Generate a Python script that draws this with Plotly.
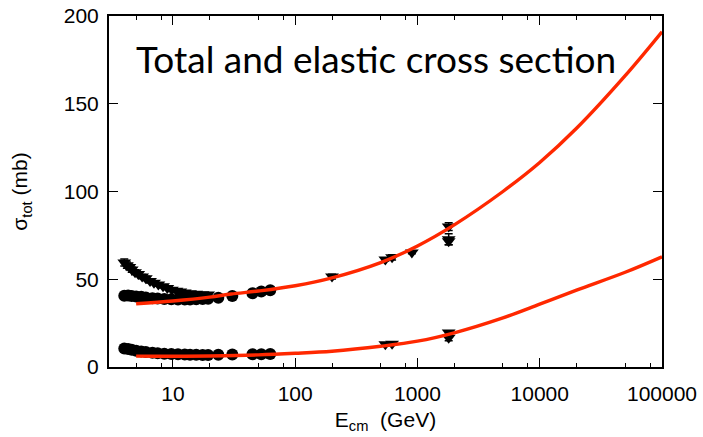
import plotly.graph_objects as go

# ---- measured cross sections (mb) vs centre-of-mass energy (GeV) ----
# p-p total
pp_tot_E = [4.0, 4.3, 4.6, 5.0, 5.5, 6.0, 6.8, 7.5, 8.5, 9.7, 11.0, 12.5, 13.8,
            15.5, 17.5, 19.4, 23.5, 30.6, 44.7, 52.8, 62.5]
pp_tot_sig = [40.6, 40.7, 40.5, 40.2, 40.0, 39.6, 39.2, 39.0, 38.8, 38.6, 38.5,
              38.5, 38.5, 38.6, 38.7, 38.9, 39.5, 40.5, 42.0, 43.0, 43.7]
pp_tot_err = [0.6] * len(pp_tot_E)

# p-pbar total
pbp_tot_E = [4.0, 4.2, 4.4, 4.6, 4.9, 5.2, 5.6, 6.0, 6.5, 7.0, 7.6, 8.3, 9.0,
             9.8, 10.7, 11.5, 12.5, 13.8, 15.5, 17.5, 19.4,
             200, 546, 620, 900, 1800, 1800, 1800]
pbp_tot_sig = [59.5, 58.0, 57.0, 55.5, 54.0, 53.0, 51.5, 50.5, 49.0, 48.0, 47.0,
               46.0, 45.0, 44.0, 43.5, 43.0, 42.5, 42.0, 41.7, 41.5, 41.3,
               51.5, 61.3, 62.5, 65.3, 80.0, 72.8, 71.7]
pbp_tot_err = [2.0, 1.8, 1.6, 1.5, 1.4, 1.3, 1.2, 1.2, 1.1, 1.0, 1.0, 0.9, 0.9,
               0.8, 0.8, 0.7, 0.7, 0.7, 0.6, 0.6, 0.6,
               1.3, 0.9, 1.5, 0.7, 2.2, 3.1, 2.0]

# p-p elastic
pp_el_E = [4.0, 4.3, 4.6, 5.0, 5.5, 6.0, 6.8, 7.5, 8.5, 9.7, 11.0, 12.5, 13.8,
           15.5, 17.5, 19.4, 23.5, 30.6, 44.7, 52.8, 62.5]
pp_el_sig = [10.5, 10.2, 9.8, 9.3, 8.9, 8.5, 8.1, 7.8, 7.6, 7.4, 7.2, 7.1, 7.0,
             7.0, 6.9, 6.9, 7.0, 7.1, 7.2, 7.3, 7.4]
pp_el_err = [0.4] * len(pp_el_E)

# p-pbar elastic
pbp_el_E = [546, 620, 1800, 1800]
pbp_el_sig = [12.9, 13.3, 19.7, 16.6]
pbp_el_err = [0.3, 0.6, 0.9, 1.6]

# ---- model curves ----
fit_tot_E = [5, 10, 20, 30, 50, 100, 200, 500, 1000, 2000, 5000, 10000,
             20000, 50000, 100000]
fit_tot_sig = [36.0, 37.6, 39.8, 41.6, 43.3, 46.3, 50.8, 59.5, 69.0, 81.0,
               100.0, 116.5, 136.0, 166.0, 191.0]

fit_el_E = [5, 10, 20, 50, 100, 200, 500, 1000, 2000, 5000, 10000, 20000,
            50000, 100000]
fit_el_sig = [6.2, 6.1, 6.3, 6.9, 7.8, 9.0, 11.8, 14.7, 19.5, 28.0, 35.8,
              43.8, 54.0, 62.8]

x_major = [10, 100, 1000, 10000, 100000]
x_major_text = ["10", "100", "1000", "10000", "100000"]
x_minor = [5, 8, 20, 50, 80, 200, 500, 800, 2000, 5000, 8000, 20000, 50000, 80000]

RED = "rgb(255,40,0)"
err_style = dict(type="data", color="black", thickness=1.5, width=4)

fig = go.Figure()


def points(E, sig, err, symbol):
    fig.add_trace(go.Scatter(
        x=E, y=sig, mode="markers",
        marker=dict(symbol=symbol, size=12, color="black"),
        error_y=dict(array=err, **err_style),
        showlegend=False,
    ))


points(pp_tot_E, pp_tot_sig, pp_tot_err, "circle")
points(pp_el_E, pp_el_sig, pp_el_err, "circle")
points(pbp_tot_E, pbp_tot_sig, pbp_tot_err, "triangle-down")
points(pbp_el_E, pbp_el_sig, pbp_el_err, "triangle-down")

for E, sig in ((fit_tot_E, fit_tot_sig), (fit_el_E, fit_el_sig)):
    fig.add_trace(go.Scatter(
        x=E, y=sig, mode="lines",
        line=dict(color=RED, width=3.4, shape="spline", smoothing=1.0),
        showlegend=False,
    ))

axis_font = dict(family="Liberation Sans", size=21, color="black")

fig.update_layout(
    width=703, height=437,
    margin=dict(l=109, r=41, t=16, b=70),
    paper_bgcolor="white", plot_bgcolor="white",
    font=axis_font,
    xaxis=dict(
        type="log", range=[0.4771, 5], automargin=False,
        tickmode="array", tickvals=x_major, ticktext=x_major_text,
        ticks="inside", ticklen=9, tickwidth=1, tickcolor="black",
        minor=dict(tickmode="array", tickvals=x_minor, ticks="inside",
                   ticklen=4, tickwidth=1, tickcolor="black", showgrid=False),
        showline=True, linecolor="black", linewidth=2, mirror="ticks",
        showgrid=False, zeroline=False, tickfont=axis_font,
        ticklabelstandoff=7,
        title=dict(text="E<sub>cm</sub>  (GeV)", font=axis_font, standoff=8),
    ),
    yaxis=dict(
        range=[0, 200], automargin=False,
        tickmode="array", tickvals=[0, 50, 100, 150, 200],
        ticks="inside", ticklen=9, tickwidth=1, tickcolor="black",
        showline=True, linecolor="black", linewidth=2, mirror="ticks",
        showgrid=False, zeroline=False, tickfont=axis_font,
        ticklabelstandoff=4,
        title=dict(text="σ<sub>tot</sub> (mb)", font=axis_font, standoff=30),
    ),
    annotations=[dict(
        text="Total and elastic cross section",
        xref="paper", yref="paper", x=0.483, y=0.879,
        xanchor="center", yanchor="middle", showarrow=False,
        font=dict(family="Lato", size=37, color="black"),
    )],
)

fig.write_html("out.html")
